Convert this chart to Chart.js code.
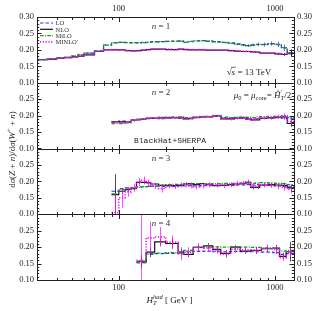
<!DOCTYPE html>
<html><head><meta charset="utf-8">
<style>html,body{margin:0;padding:0;background:#fff;}canvas{display:block;}</style>
<script src="https://cdn.jsdelivr.net/npm/chart.js@4.4.1/dist/chart.umd.min.js"></script>
</head><body>
<canvas id="c" width="320" height="311"></canvas>
<script>
// ---------- axis ranges / labels ----------
const X_MIN = 30, X_MAX = 1325;
const Y_MIN = 0.10, Y_MAX = 0.30, Y_STEP = 0.05;
const X_LABELED = [100, 1000];
const SERIES_NAMES = ['LO', 'NLO', 'MiLO', "MINLO'"];
const PANEL_LABELS = ['n = 1', 'n = 2', 'n = 3', 'n = 4'];

// ---------- panel 1 (n = 1) ----------
const p1_edges = [30,35,40,45,50,55,60,70,80,90,100,110,120,130,140,150,160,180,200,220,240,260,280,300,330,360,400,450,500,550,600,650,700,750,800,900,1000,1100,1200,1325];
const p1_LO    = [0.170,0.172,0.175,0.177,0.181,0.185,0.190,0.197,0.214,0.221,0.223,0.222,0.222,0.221,0.223,0.223,0.225,0.225,0.226,0.227,0.226,0.224,0.225,0.227,0.228,0.226,0.225,0.223,0.221,0.217,0.215,0.213,0.215,0.217,0.216,0.219,0.217,0.206,0.190];
const p1_NLO   = [0.170,0.172,0.175,0.176,0.179,0.181,0.185,0.195,0.200,0.200,0.200,0.198,0.197,0.198,0.199,0.201,0.202,0.202,0.201,0.201,0.202,0.201,0.200,0.200,0.200,0.199,0.199,0.199,0.198,0.196,0.195,0.195,0.194,0.193,0.190,0.190,0.188,0.186,0.190];
const p1_MiLO  = [0.171,0.173,0.176,0.177,0.182,0.186,0.190,0.196,0.215,0.222,0.223,0.222,0.221,0.222,0.222,0.223,0.224,0.225,0.226,0.226,0.227,0.223,0.226,0.228,0.228,0.227,0.224,0.222,0.220,0.218,0.214,0.212,0.214,0.216,0.217,0.218,0.216,0.207,0.188];
const p1_MINLOp= [0.170,0.171,0.175,0.177,0.178,0.182,0.186,0.196,0.200,0.201,0.199,0.198,0.196,0.198,0.200,0.201,0.203,0.202,0.202,0.201,0.203,0.202,0.201,0.200,0.201,0.200,0.200,0.199,0.198,0.197,0.196,0.195,0.194,0.193,0.191,0.190,0.189,0.187,0.189];
const p1_LO_err   = [0,0,0,0,0,0,0,0,0,0,0,0,0,0,0,0,0,0,0,0,0,0,0,0,0,0,0,0,0,0.003,0.003,0.004,0.004,0.005,0.006,0.006,0.008,0.010,0.012];
const p1_NLO_err  = [0,0,0,0,0,0,0,0,0,0,0,0,0,0,0,0,0,0,0,0,0,0,0,0,0,0,0,0,0,0,0,0,0,0,0,0,0.003,0.004,0.008];
const p1_MINLOp_err = null;

// ---------- panel 2 (n = 2) ----------
const p2_edges = [90,100,110,120,130,140,150,160,180,200,220,240,260,280,300,330,360,400,450,500,550,600,650,700,750,800,900,1000,1100,1200,1325];
const p2_LO    = [0.182,0.183,0.182,0.187,0.188,0.190,0.192,0.193,0.193,0.194,0.194,0.193,0.192,0.192,0.194,0.195,0.196,0.198,0.194,0.193,0.193,0.192,0.190,0.188,0.190,0.192,0.193,0.194,0.192,0.190];
const p2_NLO   = [0.181,0.181,0.180,0.186,0.188,0.189,0.192,0.192,0.193,0.193,0.194,0.193,0.190,0.191,0.195,0.196,0.197,0.199,0.190,0.190,0.192,0.193,0.190,0.187,0.187,0.192,0.193,0.195,0.196,0.176];
const p2_MiLO  = [0.176,0.176,0.178,0.186,0.189,0.190,0.193,0.194,0.195,0.195,0.196,0.196,0.194,0.194,0.196,0.197,0.198,0.200,0.195,0.194,0.195,0.196,0.195,0.194,0.196,0.197,0.198,0.198,0.199,0.194];
const p2_MINLOp= [0.180,0.178,0.181,0.185,0.187,0.190,0.191,0.193,0.191,0.194,0.193,0.195,0.189,0.192,0.194,0.197,0.196,0.200,0.191,0.189,0.192,0.194,0.191,0.188,0.190,0.193,0.192,0.197,0.199,0.182];
const p2_LO_err   = [0,0,0,0,0,0,0,0,0,0,0,0,0,0,0,0,0,0,0,0,0,0,0,0,0,0,0.003,0.003,0.004,0.006];
const p2_NLO_err  = [0,0,0,0,0,0,0,0,0,0,0,0,0,0,0,0,0,0,0,0,0,0,0,0,0,0,0,0,0.004,0.010];
const p2_MINLOp_err = [0.003,0.003,0.003,0.003,0.003,0.003,0.003,0.003,0.003,0.003,0.003,0.003,0.003,0.003,0.003,0.003,0.003,0.003,0.004,0.004,0.004,0.004,0.004,0.004,0.005,0.005,0.005,0.006,0.008,0.008];

// ---------- panel 3 (n = 3) ----------
const p3_edges = [90,100,110,120,130,140,150,160,180,200,220,240,260,280,300,330,360,400,450,500,550,600,650,700,750,800,900,1000,1100,1200,1325];
const p3_LO    = [0.170,0.178,0.180,0.181,0.183,0.184,0.184,0.185,0.185,0.186,0.185,0.186,0.186,0.187,0.186,0.187,0.187,0.188,0.188,0.188,0.189,0.189,0.190,0.189,0.190,0.189,0.188,0.186,0.185,0.183];
const p3_NLO   = [0.160,0.170,0.175,0.178,0.197,0.197,0.196,0.192,0.188,0.188,0.187,0.188,0.192,0.193,0.190,0.193,0.191,0.187,0.188,0.190,0.192,0.193,0.197,0.182,0.182,0.189,0.190,0.189,0.188,0.180];
const p3_MiLO  = [0.162,0.175,0.177,0.180,0.182,0.184,0.185,0.186,0.188,0.190,0.191,0.191,0.192,0.192,0.193,0.193,0.192,0.193,0.194,0.194,0.194,0.195,0.195,0.194,0.195,0.196,0.195,0.194,0.193,0.190];
const p3_MINLOp= [0.105,0.150,0.168,0.180,0.198,0.203,0.195,0.186,0.178,0.186,0.185,0.189,0.190,0.187,0.183,0.186,0.190,0.189,0.188,0.190,0.193,0.194,0.198,0.185,0.186,0.190,0.188,0.186,0.182,0.176];
const p3_LO_err   = [0.006,0,0,0,0,0,0,0,0,0,0,0,0,0,0,0,0,0,0,0,0,0,0,0,0,0,0.003,0.003,0.004,0.006];
const p3_NLO_err  = [0.062,0.010,0.006,0.005,0.005,0.004,0.004,0.003,0.003,0.003,0.003,0.003,0.003,0.003,0.003,0.003,0.003,0.003,0.003,0.003,0.004,0.004,0.005,0.005,0.005,0.005,0.005,0.006,0.008,0.010];
const p3_MINLOp_err = [0.060,0.030,0.015,0.012,0.012,0.012,0.010,0.010,0.012,0.008,0.008,0.008,0.008,0.008,0.008,0.008,0.008,0.008,0.008,0.008,0.008,0.008,0.008,0.010,0.008,0.008,0.008,0.010,0.010,0.012];

// ---------- panel 4 (n = 4) ----------
const p4_edges = [130,150,170,200,240,260,300,350,400,450,520,600,700,820,970,1070,1180,1325];
const p4_LO    = [0.153,0.180,0.180,0.181,0.182,0.186,0.187,0.188,0.186,0.186,0.187,0.186,0.186,0.185,0.183,0.178,0.180];
const p4_NLO   = [0.157,0.185,0.216,0.211,0.185,0.178,0.199,0.204,0.193,0.181,0.200,0.188,0.190,0.195,0.197,0.172,0.186];
const p4_MiLO  = [0.153,0.178,0.182,0.183,0.185,0.190,0.199,0.200,0.201,0.200,0.201,0.200,0.199,0.198,0.196,0.188,0.190];
const p4_MINLOp= [0.160,0.228,0.231,0.215,0.180,0.185,0.200,0.197,0.190,0.178,0.194,0.192,0.189,0.196,0.193,0.168,0.185];
const p4_LO_err   = [0,0,0,0,0,0,0,0,0,0,0,0,0,0,0.004,0.005,0.006];
const p4_NLO_err  = [0.020,0.015,0.010,0.015,0.010,0.008,0.008,0.008,0.008,0.010,0.006,0.008,0.010,0.008,0.010,0.008,0.030];
const p4_MINLOp_err = [0.150,0.050,0.030,0.020,0.020,0.015,0.012,0.012,0.010,0.010,0.012,0.010,0.010,0.012,0.012,0.010,0.012];

// ---------- styling (kept apart from the data) ----------
const STYLE = {
  'LO':     {color:'#2b35f5', dash:[3.5,2],        width:1.2, order:3},
  'NLO':    {color:'#111111', dash:[],             width:1.2, order:2},
  'MiLO':   {color:'#139a13', dash:[3.5,1.4,1,1.4],width:1.3, order:1},
  "MINLO'": {color:'#ff10ff', dash:[1.2,1.6],      width:1.7, order:0}
};
const TICK_FONT = {family:'"Liberation Serif", "DejaVu Serif", serif', size:8.5};
const SERIF = '"Liberation Serif", "DejaVu Serif", serif';

const PANELS = [
  {edges:p1_edges, vals:{'LO':p1_LO,'NLO':p1_NLO,'MiLO':p1_MiLO,"MINLO'":p1_MINLOp}, errs:{'LO':p1_LO_err,'NLO':p1_NLO_err,"MINLO'":p1_MINLOp_err}},
  {edges:p2_edges, vals:{'LO':p2_LO,'NLO':p2_NLO,'MiLO':p2_MiLO,"MINLO'":p2_MINLOp}, errs:{'LO':p2_LO_err,'NLO':p2_NLO_err,"MINLO'":p2_MINLOp_err}},
  {edges:p3_edges, vals:{'LO':p3_LO,'NLO':p3_NLO,'MiLO':p3_MiLO,"MINLO'":p3_MINLOp}, errs:{'LO':p3_LO_err,'NLO':p3_NLO_err,"MINLO'":p3_MINLOp_err}},
  {edges:p4_edges, vals:{'LO':p4_LO,'NLO':p4_NLO,'MiLO':p4_MiLO,"MINLO'":p4_MINLOp}, errs:{'LO':p4_LO_err,'NLO':p4_NLO_err,"MINLO'":p4_MINLOp_err}}
];

function stepPoints(edges, vals) {
  const pts = vals.map((v, i) => ({x: edges[i], y: v}));
  pts.push({x: edges[edges.length - 1], y: vals[vals.length - 1]});
  return pts;
}

const datasets = [];
PANELS.forEach((p, k) => {
  SERIES_NAMES.forEach(name => {
    const st = STYLE[name];
    datasets.push({
      label: name, xAxisID: 'x', yAxisID: 'y' + (k + 1),
      data: stepPoints(p.edges, p.vals[name]),
      stepped: 'before', borderColor: st.color, borderDash: st.dash,
      borderWidth: st.width, pointRadius: 0, fill: false, tension: 0,
      order: st.order
    });
  });
});

// ---------- scales ----------
const scales = {};
function xScale(pos, h) {
  return {
    type: 'logarithmic', position: pos, min: X_MIN, max: X_MAX,
    grid: {display: false, drawTicks: false}, border: {display: false},
    ticks: {autoSkip: false, maxRotation: 0, padding: 3, font: TICK_FONT, color: '#222',
      callback: v => X_LABELED.some(t => Math.abs(t - v) < 1e-6) ? String(Math.round(v)) : ''},
    afterFit: s => { s.height = h; }
  };
}
scales.x = xScale('bottom', 31);
scales.x2 = xScale('top', 17);
function yopt(k, pos, w) {
  return {
    type: 'linear', position: pos, stack: pos, stackWeight: 1, min: Y_MIN, max: Y_MAX,
    grid: {display: false, drawTicks: false}, border: {display: false},
    ticks: {stepSize: Y_STEP, autoSkip: false, padding: 3, font: TICK_FONT, color: '#222',
      callback: v => (k > 1 && v > Y_MAX - 0.001) ? '' : v.toFixed(2)},
    afterFit: s => { s.width = w; }
  };
}
// left stack is laid out last-defined-on-top, right stack first-defined-on-top
for (let k = 4; k >= 1; k--) scales['y' + k] = yopt(k, 'left', 37);
for (let k = 1; k <= 4; k++) scales['r' + k] = yopt(k, 'right', 26);

// ---------- rich text helper ----------
function rich(ctx, parts, x, y, align) {
  let w = 0;
  parts.forEach(p => {
    ctx.font = (p.i ? 'italic ' : '') + (p.s || 9) + 'px ' + (p.f || SERIF);
    p.w = ctx.measureText(p.t).width;
    if (!p.stack) w += p.w;
  });
  let cx = align === 'center' ? x - w / 2 : align === 'right' ? x - w : x;
  let prevX = cx, prevW = 0;
  parts.forEach(p => {
    ctx.font = (p.i ? 'italic ' : '') + (p.s || 9) + 'px ' + (p.f || SERIF);
    if (p.stack) {
      ctx.fillText(p.t, prevX, y + (p.dy || 0));
      if (p.w > prevW) cx = prevX + p.w;
    } else {
      ctx.fillText(p.t, cx, y + (p.dy || 0));
      p.x = cx; prevX = cx; prevW = p.w;
      cx += p.w;
    }
  });
  return parts;
}

// ---------- decoration plugin: error bars, frame, inward ticks, texts, legend ----------
const deco = {
  id: 'deco',
  afterDatasetsDraw(chart) {
    const ctx = chart.ctx, xs = chart.scales.x, ca = chart.chartArea;
    PANELS.forEach((p, k) => {
      const ys = chart.scales['y' + (k + 1)];
      ctx.save();
      ctx.beginPath(); ctx.rect(ca.left, ys.top, ca.right - ca.left, ys.bottom - ys.top); ctx.clip();
      SERIES_NAMES.forEach(name => {
        const e = p.errs[name]; if (!e) return;
        const vals = p.vals[name];
        ctx.strokeStyle = STYLE[name].color; ctx.globalAlpha = 0.75; ctx.lineWidth = 1; ctx.setLineDash([]);
        e.forEach((err, i) => {
          if (!err) return;
          const xc = xs.getPixelForValue(Math.sqrt(p.edges[i] * p.edges[i + 1]));
          ctx.beginPath();
          ctx.moveTo(Math.round(xc) + 0.5, ys.getPixelForValue(vals[i] - err));
          ctx.lineTo(Math.round(xc) + 0.5, ys.getPixelForValue(vals[i] + err));
          ctx.stroke();
        });
      });
      ctx.restore();
    });
  },
  afterDraw(chart) {
    const ctx = chart.ctx, xs = chart.scales.x, ca = chart.chartArea;
    ctx.save();
    ctx.strokeStyle = '#222'; ctx.lineWidth = 1; ctx.setLineDash([]);
    ctx.strokeRect(Math.round(ca.left) + 0.5, Math.round(ca.top) + 0.5, Math.round(ca.right - ca.left), Math.round(ca.bottom - ca.top));
    const xt = [];
    for (let d = 10; d <= 1000; d *= 10) for (let m = 1; m <= 9; m++) { const v = m * d; if (v >= X_MIN && v <= X_MAX) xt.push({v, major: m === 1}); }
    for (let k = 1; k <= 4; k++) {
      const ys = chart.scales['y' + k];
      const top = Math.round(ys.top) + 0.5, bot = Math.round(ys.bottom) + 0.5;
      ctx.beginPath(); ctx.moveTo(ca.left, bot); ctx.lineTo(ca.right, bot); ctx.stroke();
      ctx.beginPath();
      xt.forEach(t => {
        const px = Math.round(xs.getPixelForValue(t.v)) + 0.5, L = t.major ? 4.5 : 2.5;
        ctx.moveTo(px, top); ctx.lineTo(px, top + L);
        ctx.moveTo(px, bot); ctx.lineTo(px, bot - L);
      });
      for (let i = 0; i <= 20; i++) {
        const v = Y_MIN + i * 0.01, py = Math.round(ys.getPixelForValue(v)) + 0.5;
        const L = (i % 5 === 0) ? 4.5 : 2.2;
        ctx.moveTo(ca.left, py); ctx.lineTo(ca.left + L, py);
        ctx.moveTo(ca.right, py); ctx.lineTo(ca.right - L, py);
      }
      ctx.stroke();
      ctx.fillStyle = '#333';
      ctx.textBaseline = 'alphabetic';
      rich(ctx, [{t: 'n', i: true}, {t: ' = ' + PANEL_LABELS[k - 1].split('= ')[1]}], 161, ys.top + 12, 'center');
    }
    ctx.fillStyle = '#222';
    const y1 = chart.scales.y1, y2 = chart.scales.y2;
    const sp = rich(ctx, [{t: '\u221A'}, {t: 's', i: true}, {t: ' = 13 TeV'}], 249, y1.bottom - 8, 'center');
    ctx.beginPath(); ctx.moveTo(sp[0].x + sp[0].w - 0.5, y1.bottom - 15.5); ctx.lineTo(sp[1].x + sp[1].w + 0.5, y1.bottom - 15.5); ctx.lineWidth = 0.7; ctx.stroke();
    rich(ctx, [
      {t: '\u03BC', i: true}, {t: '0', s: 6.5, dy: 2}, {t: ' = '}, {t: '\u03BC', i: true}, {t: 'core', s: 6.5, dy: 2},
      {t: '= '}, {t: '\u0124', i: true}, {t: '\u2032', s: 6.5, dy: -4}, {t: 'T', s: 6.5, i: true, dy: 2, stack: true}, {t: '/2'}
    ], 289, y2.top + 15, 'right');
    ctx.font = '8px "Liberation Mono", "DejaVu Sans Mono", monospace';
    ctx.textAlign = 'center';
    ctx.fillText('BlackHat+SHERPA', 170, y2.bottom - 6);
    ctx.textAlign = 'left';
    rich(ctx, [{t: 'H', i: true}, {t: 'T', s: 6.5, i: true, dy: 2}, {t: 'had', s: 6.5, i: true, dy: -4, stack: true}, {t: ' [ GeV ]'}],
      (ca.left + ca.right) / 2 + 1, 303, 'center');
    ctx.save();
    ctx.translate(12, (ca.top + ca.bottom) / 2 + 1);
    ctx.rotate(-Math.PI / 2);
    rich(ctx, [{t: 'd'}, {t: '\u03C3', i: true}, {t: '('}, {t: 'Z', i: true}, {t: ' + '}, {t: 'n', i: true}, {t: ')/d'},
      {t: '\u03C3', i: true}, {t: '('}, {t: 'W', i: true}, {t: '+', s: 6.5, dy: -4}, {t: ' + '}, {t: 'n', i: true}, {t: ')'}], 0, 3, 'center');
    ctx.restore();
    SERIES_NAMES.forEach((name, i) => {
      const st = STYLE[name], yy = ca.top + 6 + i * 6.3;
      ctx.strokeStyle = st.color; ctx.lineWidth = st.width; ctx.setLineDash(st.dash);
      ctx.beginPath(); ctx.moveTo(ca.left + 3, yy); ctx.lineTo(ca.left + 16, yy); ctx.stroke();
      ctx.setLineDash([]);
      ctx.fillStyle = '#333';
      ctx.font = '6.5px ' + SERIF;
      ctx.fillText(name, ca.left + 18.5, yy + 2.2);
    });
    ctx.restore();
  }
};

new Chart(document.getElementById('c'), {
  type: 'line',
  data: {datasets},
  options: {
    responsive: false, animation: false, parsing: true,
    layout: {padding: 0},
    plugins: {legend: {display: false}, tooltip: {enabled: false}},
    scales
  },
  plugins: [deco]
});
</script>
</body></html>
